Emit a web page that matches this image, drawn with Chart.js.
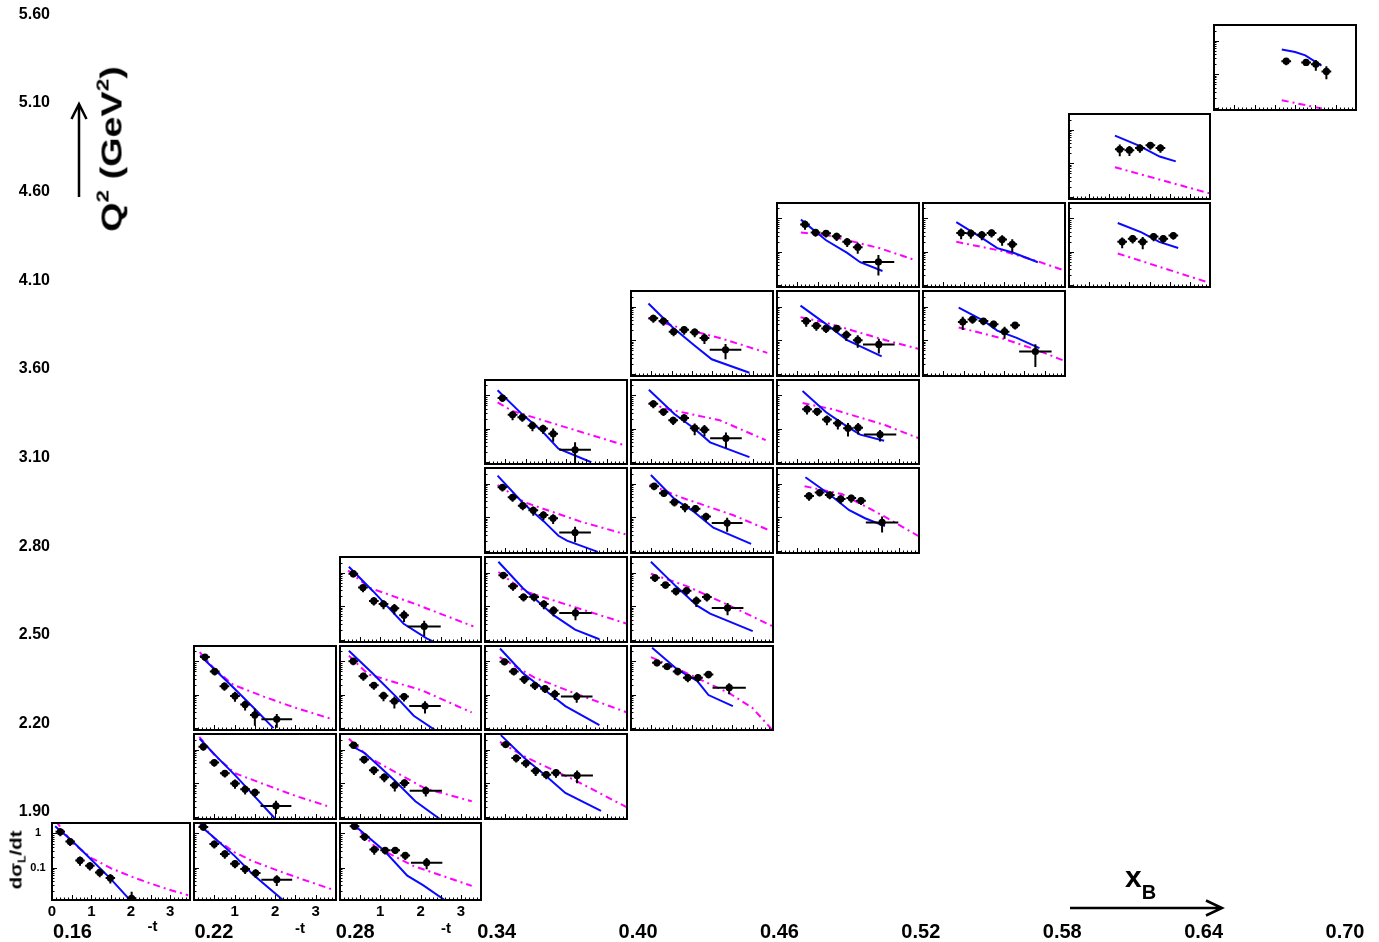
<!DOCTYPE html>
<html lang="en">
<head>
<meta charset="UTF-8">
<title>dσL/dt in (xB, Q²) bins</title>
<script src="https://cdn.jsdelivr.net/npm/chart.js"></script>
<style>
  body { margin: 0; background: #fff; }
  #page { position: relative; width: 1379px; height: 942px; overflow: hidden;
          font-family: "Liberation Sans", Arial, sans-serif; font-weight: bold; color: #000; }
  canvas { position: absolute; }
  .lbl { position: absolute; white-space: nowrap; line-height: 1; }
  .lbl sup { font-size: 60%; vertical-align: 0.75em; line-height: 0; }
  .lbl sub { font-size: 62%; line-height: 0; }
</style>
</head>
<body>
<div id="page">
  <canvas id="outer" width="1379" height="942" style="left:0;top:0"></canvas>
</div>

<script>
// bin labels of the outer axes
const xbLabels = ['0.16', '0.22', '0.28', '0.34', '0.40', '0.46', '0.52', '0.58', '0.64', '0.70'];
const q2Labels = ['1.90', '2.20', '2.50', '2.80', '3.10', '3.60', '4.10', '4.60', '5.10', '5.60'];

// which x_B column / Q2 row each small panel sits in
const panelCol = [0, 1, 2, 1, 1, 2, 2, 2, 3, 3, 3, 3, 3, 4, 4, 4, 4, 4, 5, 5, 5, 5, 6, 6, 7, 7, 8];
const panelRow = [0, 0, 0, 1, 2, 1, 2, 3, 1, 2, 3, 4, 5, 2, 3, 4, 5, 6, 4, 5, 6, 7, 6, 7, 7, 8, 9];

// data points: -t, dsigma_L/dt and their errors
const pointT = [
  [0.21, 0.46, 0.71, 0.96, 1.21, 1.48, 2.02],
  [0.23, 0.50, 0.76, 1.01, 1.26, 1.52, 2.04],
  [0.36, 0.61, 0.85, 1.12, 1.37, 1.62, 2.15],
  [0.23, 0.50, 0.76, 1.01, 1.26, 1.50, 2.02],
  [0.27, 0.51, 0.75, 1.01, 1.26, 1.50, 2.04],
  [0.34, 0.60, 0.84, 1.10, 1.36, 1.60, 2.13],
  [0.33, 0.58, 0.84, 1.08, 1.35, 1.59, 2.11],
  [0.33, 0.57, 0.84, 1.08, 1.35, 1.59, 2.09],
  [0.51, 0.77, 1.01, 1.25, 1.51, 1.75, 2.27],
  [0.48, 0.71, 0.97, 1.23, 1.48, 1.72, 2.26],
  [0.45, 0.69, 0.95, 1.21, 1.45, 1.69, 2.23],
  [0.43, 0.68, 0.93, 1.19, 1.44, 1.68, 2.22],
  [0.43, 0.68, 0.92, 1.17, 1.43, 1.68, 2.22],
  [0.64, 0.89, 1.15, 1.40, 1.65, 1.91, 2.42],
  [0.59, 0.85, 1.11, 1.37, 1.61, 1.87, 2.38],
  [0.57, 0.81, 1.07, 1.33, 1.59, 1.85, 2.37],
  [0.55, 0.80, 1.04, 1.31, 1.57, 1.81, 2.34],
  [0.55, 0.80, 1.05, 1.31, 1.57, 1.81, 2.33],
  [0.79, 1.05, 1.30, 1.57, 1.83, 2.07, 2.59],
  [0.74, 0.99, 1.23, 1.50, 1.75, 2.00, 2.54],
  [0.72, 0.97, 1.21, 1.47, 1.71, 1.99, 2.51],
  [0.69, 0.95, 1.21, 1.47, 1.73, 1.99, 2.50],
  [0.98, 1.22, 1.49, 1.74, 2.01, 2.27, 2.77],
  [0.94, 1.18, 1.45, 1.69, 1.95, 2.20],
  [1.32, 1.58, 1.83, 2.10, 2.34, 2.59],
  [1.26, 1.50, 1.76, 2.02, 2.27],
  [1.78, 2.27, 2.51, 2.77]
];
const pointV = [
  [1.12, 0.58, 0.162, 0.112, 0.072, 0.049, 0.0125],
  [1.55, 0.49, 0.25, 0.13, 0.09, 0.069, 0.044],
  [1.63, 0.80, 0.336, 0.32, 0.32, 0.226, 0.139],
  [1.22, 0.41, 0.197, 0.098, 0.066, 0.053, 0.021],
  [1.35, 0.50, 0.18, 0.091, 0.050, 0.0245, 0.018],
  [1.36, 0.51, 0.245, 0.151, 0.087, 0.102, 0.060],
  [1.02, 0.36, 0.19, 0.093, 0.063, 0.087, 0.045],
  [0.93, 0.36, 0.144, 0.116, 0.087, 0.054, 0.025],
  [1.41, 0.56, 0.39, 0.235, 0.18, 0.206, 0.17],
  [0.98, 0.50, 0.29, 0.188, 0.151, 0.104, 0.087],
  [0.83, 0.39, 0.188, 0.188, 0.116, 0.075, 0.063],
  [0.78, 0.39, 0.22, 0.16, 0.116, 0.093, 0.035],
  [0.83, 0.26, 0.22, 0.123, 0.10, 0.070, 0.023],
  [0.91, 0.70, 0.50, 0.325, 0.325, 0.405, 0.162],
  [0.70, 0.43, 0.28, 0.29, 0.145, 0.188, 0.089],
  [0.84, 0.52, 0.28, 0.20, 0.18, 0.105, 0.067],
  [0.56, 0.32, 0.178, 0.21, 0.103, 0.093, 0.051],
  [0.45, 0.37, 0.18, 0.206, 0.173, 0.117, 0.052],
  [0.43, 0.54, 0.46, 0.35, 0.37, 0.31, 0.070],
  [0.385, 0.33, 0.187, 0.144, 0.103, 0.107, 0.066],
  [0.37, 0.27, 0.224, 0.224, 0.145, 0.10, 0.075],
  [0.66, 0.38, 0.355, 0.29, 0.197, 0.136, 0.049],
  [0.35, 0.417, 0.37, 0.30, 0.18, 0.28, 0.046],
  [0.365, 0.355, 0.32, 0.365, 0.23, 0.166],
  [0.197, 0.245, 0.197, 0.286, 0.245, 0.306],
  [0.26, 0.245, 0.284, 0.34, 0.284],
  [0.245, 0.224, 0.197, 0.121]
];
const pointTErr = [
  [0.12, 0.12, 0.12, 0.12, 0.12, 0.12, 0.12],
  [0.12, 0.12, 0.12, 0.12, 0.12, 0.12, 0.38],
  [0.12, 0.12, 0.12, 0.12, 0.12, 0.12, 0.39],
  [0.12, 0.12, 0.12, 0.12, 0.12, 0.12, 0.38],
  [0.12, 0.12, 0.12, 0.12, 0.12, 0.12, 0.38],
  [0.12, 0.12, 0.12, 0.12, 0.12, 0.12, 0.40],
  [0.12, 0.12, 0.12, 0.12, 0.12, 0.12, 0.39],
  [0.12, 0.12, 0.12, 0.12, 0.12, 0.12, 0.41],
  [0.12, 0.12, 0.12, 0.12, 0.12, 0.12, 0.39],
  [0.12, 0.12, 0.12, 0.12, 0.12, 0.12, 0.39],
  [0.12, 0.12, 0.12, 0.12, 0.12, 0.12, 0.40],
  [0.12, 0.12, 0.12, 0.12, 0.12, 0.12, 0.39],
  [0.12, 0.12, 0.12, 0.12, 0.12, 0.12, 0.39],
  [0.12, 0.12, 0.12, 0.12, 0.12, 0.12, 0.41],
  [0.12, 0.12, 0.12, 0.12, 0.12, 0.12, 0.39],
  [0.12, 0.12, 0.12, 0.12, 0.12, 0.12, 0.38],
  [0.12, 0.12, 0.12, 0.12, 0.12, 0.12, 0.39],
  [0.12, 0.12, 0.12, 0.12, 0.12, 0.12, 0.39],
  [0.12, 0.12, 0.12, 0.12, 0.12, 0.12, 0.40],
  [0.12, 0.12, 0.12, 0.12, 0.12, 0.12, 0.40],
  [0.12, 0.12, 0.12, 0.12, 0.12, 0.12, 0.39],
  [0.12, 0.12, 0.12, 0.12, 0.12, 0.12, 0.39],
  [0.12, 0.12, 0.12, 0.12, 0.12, 0.12, 0.40],
  [0.12, 0.12, 0.12, 0.12, 0.12, 0.12],
  [0.12, 0.12, 0.12, 0.12, 0.12, 0.12],
  [0.12, 0.12, 0.12, 0.12, 0.12],
  [0.12, 0.12, 0.12, 0.12]
];
const pointVErr = [
  [0.30, 0.15, 0.05, 0.03, 0.02, 0.015, 0.007],
  [0.35, 0.13, 0.07, 0.035, 0.025, 0.02, 0.015],
  [0.35, 0.20, 0.10, 0.08, 0.07, 0.06, 0.05],
  [0.30, 0.10, 0.05, 0.03, 0.02, 0.015, 0.009],
  [0.30, 0.12, 0.05, 0.03, 0.017, 0.013, 0.008],
  [0.30, 0.13, 0.07, 0.045, 0.03, 0.03, 0.02],
  [0.25, 0.10, 0.05, 0.03, 0.025, 0.025, 0.018],
  [0.22, 0.10, 0.04, 0.035, 0.03, 0.02, 0.012],
  [0.30, 0.15, 0.10, 0.07, 0.05, 0.06, 0.07],
  [0.22, 0.12, 0.08, 0.05, 0.04, 0.035, 0.03],
  [0.20, 0.10, 0.05, 0.05, 0.035, 0.025, 0.025],
  [0.20, 0.10, 0.06, 0.05, 0.035, 0.03, 0.017],
  [0.20, 0.08, 0.06, 0.04, 0.03, 0.03, 0.016],
  [0.20, 0.15, 0.12, 0.09, 0.09, 0.10, 0.06],
  [0.17, 0.10, 0.07, 0.08, 0.05, 0.05, 0.035],
  [0.20, 0.12, 0.07, 0.06, 0.05, 0.03, 0.03],
  [0.15, 0.08, 0.05, 0.06, 0.04, 0.035, 0.025],
  [0.12, 0.10, 0.05, 0.06, 0.05, 0.04, 0.025],
  [0.12, 0.13, 0.12, 0.10, 0.10, 0.08, 0.035],
  [0.12, 0.09, 0.06, 0.05, 0.045, 0.04, 0.025],
  [0.12, 0.08, 0.06, 0.06, 0.05, 0.04, 0.035],
  [0.20, 0.10, 0.09, 0.08, 0.06, 0.05, 0.03],
  [0.15, 0.11, 0.09, 0.08, 0.07, 0.07, 0.03],
  [0.13, 0.11, 0.10, 0.10, 0.08, 0.07],
  [0.07, 0.07, 0.08, 0.08, 0.07, 0.08],
  [0.10, 0.08, 0.08, 0.09, 0.08],
  [0.06, 0.05, 0.07, 0.05]
];

// model curves as [-t, dsigma_L/dt] vertices
const blueCurve = [
  [[0.08, 1.63], [0.5, 0.62], [1.0, 0.17], [1.5, 0.045], [2.0, 0.0105]],
  [[0.14, 1.74], [0.5, 0.75], [1.0, 0.22], [1.44, 0.065], [1.8, 0.028], [2.2, 0.011]],
  [[0.26, 2.16], [1.1, 0.31], [1.67, 0.058], [2.07, 0.03], [2.63, 0.0105]],
  [[0.14, 2.1], [0.6, 0.55], [1.04, 0.16], [1.5, 0.04], [2.0, 0.0087]],
  [[0.15, 1.5], [0.6, 0.45], [1.0, 0.15], [1.5, 0.037], [1.96, 0.0098]],
  [[0.25, 1.36], [0.62, 0.78], [1.35, 0.122], [1.87, 0.029], [2.47, 0.0087]],
  [[0.22, 2.1], [0.8, 0.45], [1.39, 0.087], [1.83, 0.023], [2.35, 0.0087]],
  [[0.22, 1.5], [0.82, 0.28], [1.58, 0.03], [2.15, 0.011], [2.6, 0.006]],
  [[0.39, 2.7], [0.97, 0.56], [1.49, 0.17], [1.98, 0.051], [2.86, 0.015]],
  [[0.37, 2.45], [0.93, 0.45], [1.48, 0.135], [1.98, 0.045], [2.82, 0.012]],
  [[0.33, 2.1], [0.93, 0.35], [1.69, 0.054], [2.22, 0.02], [2.82, 0.0104]],
  [[0.31, 1.73], [0.93, 0.27], [1.45, 0.075], [1.81, 0.028], [2.02, 0.02], [2.78, 0.0093]],
  [[0.31, 1.44], [0.93, 0.26], [1.41, 0.083], [1.81, 0.025], [2.62, 0.0097]],
  [[0.52, 2.6], [1.15, 0.56], [1.63, 0.26], [1.91, 0.097], [2.51, 0.045]],
  [[0.49, 2.1], [1.11, 0.39], [1.63, 0.104], [1.95, 0.06], [3.0, 0.018]],
  [[0.49, 1.8], [1.07, 0.35], [1.55, 0.145], [2.03, 0.0485], [2.96, 0.016]],
  [[0.44, 1.49], [1.07, 0.277], [1.55, 0.103], [1.95, 0.0385], [2.92, 0.0138]],
  [[0.43, 1.24], [1.03, 0.24], [1.55, 0.072], [1.99, 0.027], [2.92, 0.0107]],
  [[0.70, 1.55], [1.29, 0.485], [1.78, 0.162], [2.17, 0.093], [2.66, 0.054]],
  [[0.63, 1.37], [1.21, 0.31], [1.73, 0.115], [2.05, 0.066], [2.64, 0.043]],
  [[0.58, 1.07], [1.21, 0.30], [1.73, 0.10], [2.58, 0.033]],
  [[0.59, 0.92], [1.21, 0.22], [1.73, 0.092], [2.05, 0.048], [2.6, 0.026]],
  [[0.88, 0.94], [1.51, 0.37], [1.83, 0.193], [2.31, 0.117], [2.87, 0.058]],
  [[0.82, 0.77], [1.43, 0.27], [1.83, 0.127], [2.23, 0.092], [2.83, 0.048]],
  [[1.21, 0.73], [1.8, 0.38], [2.24, 0.197], [2.71, 0.128]],
  [[1.14, 0.66], [1.72, 0.34], [2.25, 0.158], [2.65, 0.113]],
  [[1.67, 0.54], [2.0, 0.46], [2.25, 0.363], [2.65, 0.18]]
];
const magentaCurve = [
  [[0.1, 2.3], [0.5, 0.55], [1.0, 0.19], [1.5, 0.095], [2.0, 0.055], [2.5, 0.034], [3.0, 0.022], [3.45, 0.0155]],
  [[0.14, 2.0], [0.5, 0.72], [1.0, 0.28], [1.44, 0.155], [2.08, 0.08], [2.7, 0.044], [3.42, 0.0226]],
  [[0.2, 2.3], [0.3, 1.93], [0.86, 0.42], [1.82, 0.112], [3.27, 0.029]],
  [[0.13, 2.4], [0.5, 0.7], [1.0, 0.2], [1.68, 0.098], [2.5, 0.042], [3.28, 0.021]],
  [[0.14, 1.9], [0.5, 0.6], [0.96, 0.2], [1.72, 0.087], [2.5, 0.04], [3.37, 0.0188]],
  [[0.22, 2.1], [0.74, 0.56], [2.11, 0.07], [3.27, 0.029]],
  [[0.22, 1.5], [0.7, 0.41], [2.03, 0.135], [3.27, 0.029]],
  [[0.2, 1.16], [0.74, 0.35], [1.87, 0.116], [3.31, 0.025]],
  [[0.37, 1.69], [1.01, 0.59], [2.22, 0.122], [3.5, 0.019]],
  [[0.36, 1.35], [1.21, 0.33], [2.22, 0.109], [3.5, 0.029]],
  [[0.33, 1.04], [0.97, 0.28], [2.22, 0.093], [3.5, 0.03]],
  [[0.31, 0.91], [0.97, 0.28], [2.34, 0.075], [3.46, 0.031]],
  [[0.31, 0.62], [0.65, 0.35], [2.18, 0.093], [3.46, 0.031]],
  [[0.49, 1.35], [1.2, 0.56], [2.43, 0.109], [2.99, 0.04], [3.48, 0.0087]],
  [[0.49, 0.93], [1.39, 0.39], [2.43, 0.104], [3.5, 0.025]],
  [[0.46, 0.94], [1.23, 0.39], [2.51, 0.116], [3.36, 0.043]],
  [[0.44, 0.59], [0.91, 0.385], [2.19, 0.178], [3.32, 0.045]],
  [[0.43, 0.45], [1.03, 0.27], [2.23, 0.112], [3.36, 0.042]],
  [[0.68, 0.84], [1.61, 0.485], [2.58, 0.116], [3.5, 0.027]],
  [[0.63, 0.59], [1.37, 0.385], [2.66, 0.128], [3.5, 0.051]],
  [[0.58, 0.485], [1.21, 0.33], [2.82, 0.089], [3.5, 0.055]],
  [[0.59, 0.38], [1.25, 0.31], [2.54, 0.126], [3.34, 0.059]],
  [[0.88, 0.24], [1.99, 0.11], [2.79, 0.052], [3.49, 0.024]],
  [[0.82, 0.197], [1.99, 0.102], [2.79, 0.053], [3.48, 0.027]],
  [[1.21, 0.088], [3.49, 0.0114]],
  [[1.14, 0.076], [3.49, 0.0126]],
  [[1.67, 0.0168], [2.73, 0.0091]]
];

// axis ranges of the small panels (bottom row pads are shorter)
const tRange = [0, 3.5];
const yRangeBottomRow = [0.0112, 2.02];
const yRangeOtherRows = [0.00858, 2.92];

Chart.defaults.font.family = '"Liberation Sans", Arial, sans-serif';
Chart.defaults.color = '#000';

// pixel layout of the pad grid
const colEdge = [51.7, 192, 337.5, 483, 629, 775, 921, 1067, 1212, 1358];
const rowH = 88.63;
const rowTop = r => 821 - rowH * r;
const rowBottom = r => r === 0 ? 900 : 821 - rowH * (r - 1);

// frame, inner tick marks, error bars and tick labels of a pad
const panelFrame = {
  id: 'panelFrame',
  afterDatasetsDraw(chart, args, opts) {
    const {ctx, chartArea: a, scales: {x, y}} = chart;
    ctx.save();
    ctx.beginPath();
    ctx.rect(a.left, a.top, a.width, a.height);
    ctx.clip();
    ctx.strokeStyle = '#000';
    ctx.lineWidth = 2;
    chart.data.datasets[0].data.forEach(p => {
      const px = x.getPixelForValue(p.x), py = y.getPixelForValue(p.y);
      ctx.beginPath();
      ctx.moveTo(x.getPixelForValue(p.x - p.ex), py);
      ctx.lineTo(x.getPixelForValue(p.x + p.ex), py);
      ctx.moveTo(px, y.getPixelForValue(p.y + p.ey));
      ctx.lineTo(px, y.getPixelForValue(Math.max(p.y - p.ey, 1e-4)));
      ctx.stroke();
    });
    ctx.restore();

    ctx.save();
    ctx.strokeStyle = '#000';
    ctx.lineWidth = 1;
    ctx.beginPath();
    for (let k = 1; k < 35; k++) {
      const px = Math.round(x.getPixelForValue(k / 10)) + 0.5;
      const len = k % 5 === 0 ? 5 : 2.5;
      ctx.moveTo(px, a.bottom);
      ctx.lineTo(px, a.bottom - len);
    }
    for (let e = -3; e <= 0; e++) {
      for (let m = 1; m <= 9; m++) {
        const v = m * Math.pow(10, e);
        if (v <= y.min || v >= y.max) continue;
        const py = Math.round(y.getPixelForValue(v)) + 0.5;
        ctx.moveTo(a.left, py);
        ctx.lineTo(a.left + (m === 1 ? 5 : 2.5), py);
      }
    }
    ctx.stroke();
    ctx.lineWidth = 2;
    ctx.strokeRect(a.left, a.top, a.width, a.height);

    ctx.fillStyle = '#000';
    if (opts.xLabels) {
      ctx.font = 'bold 15px "Liberation Sans", Arial, sans-serif';
      ctx.textAlign = 'center';
      ctx.textBaseline = 'middle';
      for (let k = opts.zero ? 0 : 1; k <= 3; k++) {
        ctx.fillText(String(k), x.getPixelForValue(k), a.bottom + 12);
      }
    }
    if (opts.yLabels) {
      ctx.font = 'bold 11px "Liberation Sans", Arial, sans-serif';
      ctx.textAlign = 'center';
      ctx.textBaseline = 'middle';
      [1, 0.1].forEach(v => ctx.fillText(String(v), a.left - 14, y.getPixelForValue(v)));
    }
    ctx.restore();
  }
};

// arrows of the outer axes
const outerArrows = {
  id: 'outerArrows',
  afterDraw(chart) {
    const ctx = chart.ctx;
    ctx.save();
    ctx.strokeStyle = '#000';
    ctx.lineWidth = 2.5;
    ctx.beginPath();
    ctx.moveTo(1070, 908); ctx.lineTo(1222, 908);
    ctx.moveTo(1206, 900.5); ctx.lineTo(1222, 908); ctx.lineTo(1206, 915.5);
    ctx.moveTo(79, 197); ctx.lineTo(79, 104);
    ctx.moveTo(71.5, 119); ctx.lineTo(79, 104); ctx.lineTo(86.5, 119);
    ctx.stroke();
    ctx.restore();
  }
};

// outer axes carrying the x_B and Q2 bin labels
new Chart(document.getElementById('outer'), {
  type: 'scatter',
  data: { datasets: [] },
  plugins: [outerArrows],
  options: {
    responsive: false,
    animation: false,
    events: [],
    layout: { padding: { top: 23.3, right: 34, bottom: 0, left: 0 } },
    plugins: { legend: { display: false }, tooltip: { enabled: false } },
    scales: {
      x: {
        type: 'linear', position: 'bottom', min: -0.1592, max: 9,
        afterFit: s => { s.height = 26.5; },
        grid: { display: false, drawTicks: false },
        border: { display: false },
        ticks: {
          stepSize: 1, autoSkip: false, maxRotation: 0, padding: 5, includeBounds: false,
          font: { size: 20, weight: 'bold' },
          callback: v => xbLabels[v] ?? ''
        }
      },
      y: {
        type: 'linear', position: 'left', min: -1.0662, max: 9,
        afterFit: s => { s.width = 50; },
        grid: { display: false, drawTicks: false },
        border: { display: false },
        ticks: {
          stepSize: 1, autoSkip: false, padding: 0, labelOffset: -9, includeBounds: false,
          font: { size: 16, weight: 'bold' },
          callback: v => q2Labels[v] ?? ''
        }
      }
    }
  }
});

// one small chart per (x_B, Q2) bin
const page = document.getElementById('page');
panelCol.forEach((c, i) => {
  const r = panelRow[i];
  const showX = r === 0;
  const showY = r === 0 && c === 0;
  const x0 = Math.round(colEdge[c]), x1 = Math.round(colEdge[c + 1]);
  const y0 = Math.round(rowTop(r)), y1 = Math.round(rowBottom(r));
  const padL = 2 + (showY ? 24 : 0);
  const padB = 2 + (showX ? 22 : 0);
  const cv = document.createElement('canvas');
  cv.width = x1 - x0 + padL + 2;
  cv.height = y1 - y0 + padB + 2;
  cv.style.left = (x0 - padL) + 'px';
  cv.style.top = (y0 - 2) + 'px';
  page.appendChild(cv);

  const yr = r === 0 ? yRangeBottomRow : yRangeOtherRows;
  new Chart(cv, {
    type: 'scatter',
    data: {
      datasets: [
        {
          data: pointT[i].map((t, k) => ({ x: t, y: pointV[i][k], ex: pointTErr[i][k], ey: pointVErr[i][k] })),
          pointRadius: 3.6, backgroundColor: '#000', borderWidth: 0, clip: 0
        },
        {
          type: 'line',
          data: blueCurve[i].map(([t, v]) => ({ x: t, y: v })),
          borderColor: '#0a0aff', borderWidth: 2, pointRadius: 0, fill: false, clip: 0
        },
        {
          type: 'line',
          data: magentaCurve[i].map(([t, v]) => ({ x: t, y: v })),
          borderColor: '#ff00ff', borderWidth: 2, borderDash: [7, 4, 2, 4],
          pointRadius: 0, fill: false, clip: 0
        }
      ]
    },
    plugins: [panelFrame],
    options: {
      responsive: false,
      animation: false,
      events: [],
      layout: { padding: { left: padL, right: 2, top: 2, bottom: padB } },
      plugins: {
        legend: { display: false },
        tooltip: { enabled: false },
        panelFrame: { xLabels: showX, zero: c === 0, yLabels: showY }
      },
      scales: {
        x: { type: 'linear', min: tRange[0], max: tRange[1], display: false },
        y: { type: 'logarithmic', min: yr[0], max: yr[1], display: false }
      }
    }
  });
});

// axis titles
function addLabel(html, css) {
  const d = document.createElement('div');
  d.className = 'lbl';
  d.innerHTML = html;
  d.style.cssText = css;
  page.appendChild(d);
}
addLabel('Q<sup>2</sup> (GeV<sup>2</sup>)',
  'left:112px;top:149px;font-size:29px;transform:translate(-50%,-50%) rotate(-90deg) scaleX(1.3);');
addLabel('x<sub style="font-size:20px;vertical-align:-12px">B</sub>',
  'left:1125px;top:862px;font-size:30px;');
addLabel('d&sigma;<sub style="font-size:10px">L</sub>/dt',
  'left:16px;top:860px;font-size:17px;transform:translate(-50%,-50%) rotate(-90deg) scaleX(1.2);');
[[152.5, 925], [300, 927], [446, 927]].forEach(([lx, ly]) =>
  addLabel('-t', 'left:' + lx + 'px;top:' + ly + 'px;font-size:15px;transform:translate(-50%,-50%);'));
</script>
</body>
</html>
